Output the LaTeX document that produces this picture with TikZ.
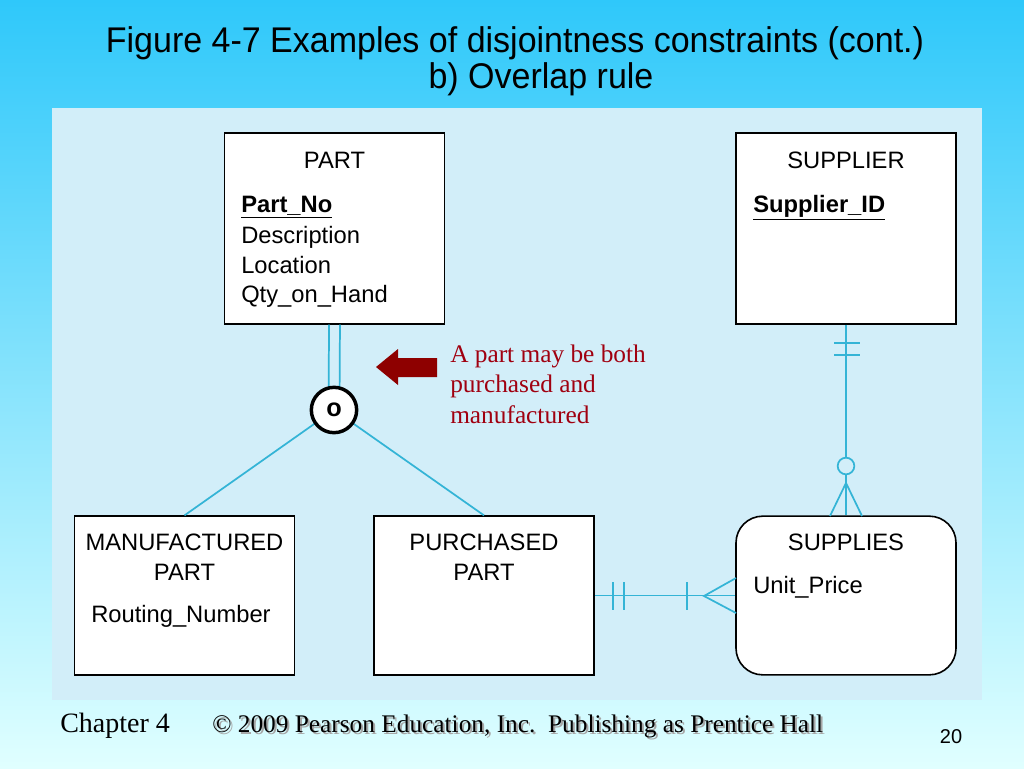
\documentclass[tikz,border=0pt]{standalone}
\usepackage{fontspec}
\setmainfont{Liberation Serif}
\setsansfont{Liberation Sans}
\usetikzlibrary{calc}
\definecolor{bgtop}{HTML}{2FC8FA}
\definecolor{bgbot}{HTML}{E0FFFF}
\definecolor{panel}{HTML}{D2EEF9}
\definecolor{conn}{HTML}{34B4D6}
\definecolor{note}{HTML}{A00010}
\definecolor{arrowred}{HTML}{8E0000}
\begin{document}
\begin{tikzpicture}[x=0.75pt,y=-0.75pt,
  entity/.style={draw=black,line width=1.2pt,fill=white,minimum width=165pt,minimum height=143pt,inner sep=0pt},
  hdr/.style={font=\sffamily\fontsize{17.8}{19}\selectfont,inner sep=0pt,anchor=base},
  attr/.style={font=\sffamily\fontsize{17.8}{19}\selectfont,inner sep=0pt,anchor=base west},
  rel/.style={draw=conn,line width=1.3pt},
  notetxt/.style={font=\rmfamily\fontsize{19}{21}\selectfont,text=note,inner sep=0pt,anchor=base west},
  ovstyle/.style={circle,draw=black,line width=2.6pt,fill=white,minimum size=34pt,inner sep=0pt,font=\sffamily\bfseries\fontsize{19}{20}\selectfont},
]
\useasboundingbox (0,0) rectangle (1024,768);
\shade[top color=bgtop,bottom color=bgbot] (0,0) rectangle (1024,768);
\fill[panel] (52,108) rectangle (982,700);

% title
\node[font=\sffamily\fontsize{25.5}{28}\selectfont,inner sep=0pt,anchor=base] (t1) at (515,52) {\scalebox{1}[1.05]{Figure 4-7 Examples of disjointness constraints (cont.)}};
\node[font=\sffamily\fontsize{25.5}{28}\selectfont,inner sep=0pt,anchor=base] (t2) at (541,88) {\scalebox{1}[1.05]{b) Overlap rule}};

% entities
\node[entity] (part) at (334.5,228.5) {};
\node[entity] (supplier) at (846,228.5) {};
\node[entity,minimum height=119pt] (mfg) at (184.5,595.5) {};
\node[entity,minimum height=119pt] (pur) at (484,595.5) {};
\node[entity,minimum height=119pt,rounded corners=20pt] (supplies) at (846,595.5) {};

\node[hdr] (parth) at (334.5,168) {PART};
\node[attr] (pa1) at (241,212) {\textbf{\underline{Part\_No}}};
\node[attr] (pa2) at (241,243) {Description};
\node[attr] (pa3) at (241,273) {Location};
\node[attr] (pa4) at (241,302) {Qty\_on\_Hand};

\node[hdr] (suph) at (846,168) {SUPPLIER};
\node[attr] (sa1) at (753,212) {\textbf{\underline{Supplier\_ID}}};

\node[hdr] (mfgh1) at (184.5,550) {MANUFACTURED};
\node[hdr] (mfgh2) at (184.5,580) {PART};
\node[attr] (ma1) at (91,622) {Routing\_Number};

\node[hdr] (purh1) at (484,550) {PURCHASED};
\node[hdr] (purh2) at (484,580) {PART};

\node[hdr] (suph2) at (846,550) {SUPPLIES};
\node[attr] (ua1) at (753,593) {Unit\_Price};

% overlap circle (placed first as anchor reference)
\coordinate (ovc) at (334,410);
\draw[rel] ([xshift=-4.1pt]part.south) -- ([xshift=-4.1pt]ovc);
\draw[rel] ([xshift=4.1pt]part.south) -- ([xshift=4.1pt]ovc);
\draw[rel] (ovc) -- (mfg.north);
\draw[rel] (ovc) -- (pur.north);
\node[ovstyle] (ov) at (ovc) {\raisebox{1pt}{o}};

% SUPPLIER -- SUPPLIES
\coordinate (sapex) at (846,483);
\draw[rel] (supplier.south) -- (supplies.north);
\draw[rel] (834,343) -- (860,343);
\draw[rel] (834,355) -- (860,355);
\node[circle,draw=conn,line width=1.3pt,fill=panel,minimum size=12.5pt,inner sep=0pt] (scirc) at (846,466) {};
\draw[rel] (830,516) -- (sapex) -- (862,516);

% PURCHASED -- SUPPLIES
\coordinate (papex) at (704,596);
\draw[rel] (pur.east) -- (supplies.west);
\draw[rel] (613,582) -- (613,610);
\draw[rel] (624,582) -- (624,610);
\draw[rel] (687,582) -- (687,610);
\draw[rel] (736,578) -- (papex) -- (736,613);

% red arrow
\fill[arrowred] (376,367) -- (398,349) -- (398,358) -- (437,358) -- (437,377) -- (398,377) -- (398,385) -- cycle;
\node[notetxt] (n1) at (450,362) {A part may be both};
\node[notetxt] (n2) at (450,392) {purchased and};
\node[notetxt] (n3) at (450,423) {manufactured};

% footer
\node[font=\rmfamily\fontsize{21}{23}\selectfont,inner sep=0pt,anchor=base west] (ch) at (60,732) {\scalebox{1}[1.0]{Chapter 4}};
\node[font=\rmfamily\fontsize{19}{21}\selectfont,inner sep=0pt,anchor=base west,text=gray!70] (cpsh) at (214,734) {© 2009 Pearson Education, Inc.\ \ Publishing as Prentice Hall};
\node[font=\rmfamily\fontsize{19}{21}\selectfont,inner sep=0pt,anchor=base west] (cp) at (212,732) {© 2009 Pearson Education, Inc.\ \ Publishing as Prentice Hall};
\node[font=\sffamily\fontsize{15}{17}\selectfont,inner sep=0pt,anchor=base] (pg) at (951,743) {20};
\end{tikzpicture}
\end{document}
